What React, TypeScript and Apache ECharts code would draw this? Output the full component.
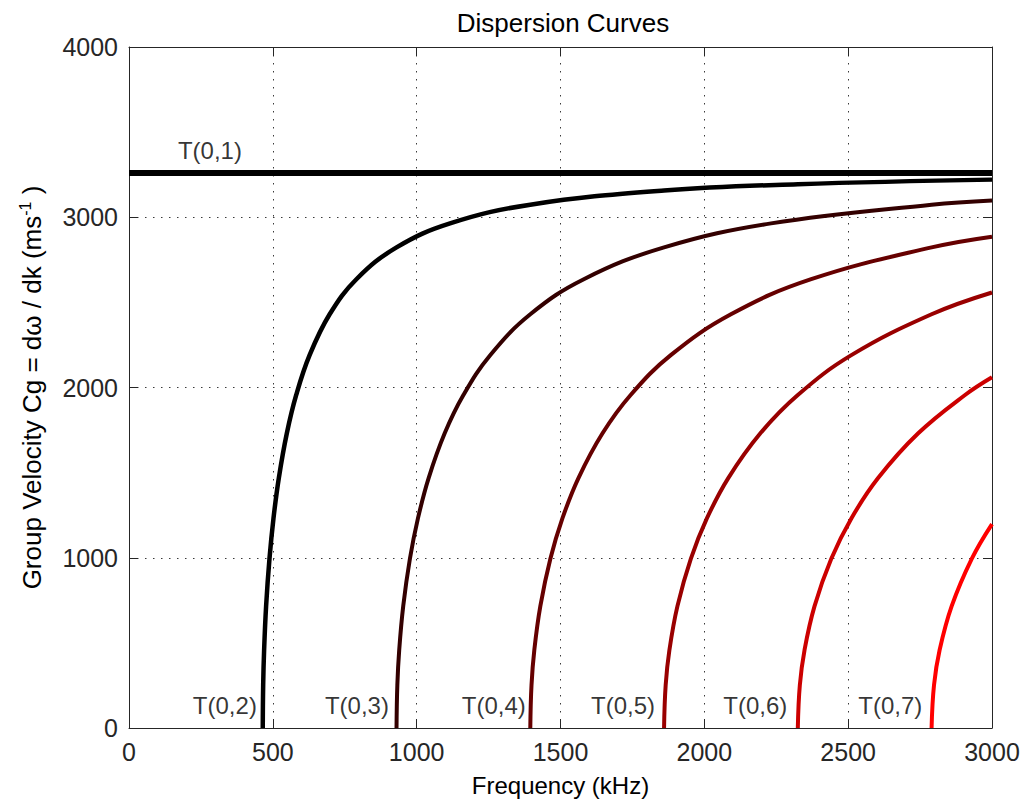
import React, { useEffect, useRef } from "react";
import * as echarts from "echarts";

// Torsional guided-wave modes: group velocity (m/s) against frequency (kHz)
const t01Freq = [0, 3000];
const t01Vel = [3260, 3260];

const t02Freq = [465, 466.4, 469.7, 476.6, 488.3, 502.2, 520.8, 548.7, 581.3, 627.8, 697.5, 790.5, 930, 1116, 1395, 1860, 2325, 3000];
const t02Vel = [0, 252, 458, 716, 994, 1231, 1468, 1731, 1956, 2190, 2430, 2636, 2823, 2964, 3074, 3157, 3194, 3221];

const t03Freq = [930, 932.8, 939.3, 953.3, 976.5, 1004.4, 1041.6, 1097.4, 1162.5, 1255.5, 1395, 1581, 1860, 2232, 2790, 3000];
const t03Vel = [0, 252, 458, 716, 994, 1231, 1468, 1731, 1956, 2190, 2430, 2636, 2823, 2964, 3074, 3099];

const t04Freq = [1395, 1399.2, 1409, 1429.9, 1464.8, 1506.6, 1562.4, 1646.1, 1743.8, 1883.3, 2092.5, 2371.5, 2790, 3000];
const t04Vel = [0, 252, 458, 716, 994, 1231, 1468, 1731, 1956, 2190, 2430, 2636, 2823, 2886];

const t05Freq = [1860, 1865.6, 1878.6, 1906.5, 1953, 2008.8, 2083.2, 2194.8, 2325, 2511, 2790, 3000];
const t05Vel = [0, 252, 458, 716, 994, 1231, 1468, 1731, 1956, 2190, 2430, 2558];

const t06Freq = [2325, 2332, 2348.3, 2383.1, 2441.3, 2511, 2604, 2743.5, 2906.3, 3000];
const t06Vel = [0, 252, 458, 716, 994, 1231, 1468, 1731, 1956, 2060];

const t07Freq = [2790, 2798.4, 2817.9, 2859.8, 2929.5, 3000];
const t07Vel = [0, 252, 458, 716, 994, 1198];

const modeNames = ["T(0,1)", "T(0,2)", "T(0,3)", "T(0,4)", "T(0,5)", "T(0,6)", "T(0,7)"];
const modeFreqs = [t01Freq, t02Freq, t03Freq, t04Freq, t05Freq, t06Freq, t07Freq];
const modeVels = [t01Vel, t02Vel, t03Vel, t04Vel, t05Vel, t06Vel, t07Vel];
const modeColors = ["#000000", "#000000", "#330000", "#660000", "#990000", "#cc0000", "#ff0000"];
const modeWidths = [6, 4.5, 4, 4, 4, 4, 4];

// Where each mode name is written (left edge of the text, vertical centre)
const labelFreq = [170, 222, 681, 1157, 1606, 2066, 2535];
const labelVel = [3395, 130, 130, 130, 130, 130, 130];

const FONT = "'Liberation Sans', Arial, Helvetica, sans-serif";
const AXIS_COLOR = "#262626";

export default function App() {
  const ref = useRef<HTMLDivElement>(null);

  useEffect(() => {
    if (!ref.current) return;
    const chart = echarts.init(ref.current, undefined, { renderer: "svg" });

    const curveSeries = modeNames.map((name, i) => ({
      name,
      type: "line",
      xAxisIndex: 0,
      yAxisIndex: 0,
      data: modeFreqs[i].map((f, j) => [f, modeVels[i][j]]),
      showSymbol: false,
      symbol: "none",
      smooth: i === 0 ? false : 0.4,
      lineStyle: { color: modeColors[i], width: modeWidths[i], cap: "butt", join: "round" },
      silent: true,
      z: 3,
    }));

    const labelSeries = {
      type: "scatter",
      xAxisIndex: 0,
      yAxisIndex: 0,
      symbolSize: 0,
      silent: true,
      z: 5,
      data: modeNames.map((name, i) => ({ name, value: [labelFreq[i], labelVel[i]] })),
      label: {
        show: true,
        position: "right",
        distance: 0,
        formatter: "{b}",
        fontSize: 24,
        fontFamily: FONT,
        color: "#000000",
      },
    };

    const plain = (v: number) => String(v);
    const tickStyle = { show: true, inside: true, length: 9, lineStyle: { color: AXIS_COLOR, width: 1 } };
    const lineStyleAxis = { show: true, onZero: false, lineStyle: { color: AXIS_COLOR, width: 1 } };
    const dotted = { show: true, lineStyle: { color: "#3a3a3a", width: 1, type: [1.5, 6.5] } };
    const labelStyle = { fontSize: 25, fontFamily: FONT, color: AXIS_COLOR, formatter: plain };

    chart.setOption({
      animation: false,
      backgroundColor: "#ffffff",
      title: {
        text: "Dispersion Curves",
        left: 558,
        top: 5,
        textAlign: "center",
        textStyle: { fontSize: 26, fontWeight: "normal", fontFamily: FONT, color: "#000000" },
      },
      grid: { left: 129, right: 33, top: 47, bottom: 74, containLabel: false },
      xAxis: [
        {
          type: "value",
          position: "bottom",
          min: 0,
          max: 3000,
          interval: 500,
          name: "Frequency (kHz)",
          nameLocation: "middle",
          nameGap: 45,
          nameTextStyle: { fontSize: 24, fontFamily: FONT, color: "#000000" },
          axisLine: lineStyleAxis,
          axisTick: tickStyle,
          axisLabel: { ...labelStyle, margin: 11 },
          splitLine: dotted,
        },
        {
          type: "value",
          position: "top",
          min: 0,
          max: 3000,
          interval: 500,
          axisLine: lineStyleAxis,
          axisTick: tickStyle,
          axisLabel: { show: false },
          splitLine: { show: false },
        },
      ],
      yAxis: [
        {
          type: "value",
          position: "left",
          min: 0,
          max: 4000,
          interval: 1000,
          name: "{n|Group Velocity Cg = dω / dk (ms}{sup|-1}{n| )}",
          nameLocation: "middle",
          nameGap: 82,
          nameRotate: 90,
          nameTextStyle: {
            fontSize: 26,
            fontFamily: FONT,
            color: "#000000",
            rich: {
              n: { fontSize: 26, fontFamily: FONT, color: "#000000", lineHeight: 30, verticalAlign: "middle" },
              sup: { fontSize: 16, fontFamily: FONT, color: "#000000", lineHeight: 16, verticalAlign: "top" },
            },
          },
          axisLine: lineStyleAxis,
          axisTick: tickStyle,
          axisLabel: { ...labelStyle, margin: 11 },
          splitLine: dotted,
        },
        {
          type: "value",
          position: "right",
          min: 0,
          max: 4000,
          interval: 1000,
          axisLine: lineStyleAxis,
          axisTick: tickStyle,
          axisLabel: { show: false },
          splitLine: { show: false },
        },
      ],
      series: [...curveSeries, labelSeries],
    });

    return () => chart.dispose();
  }, []);

  return (
    <div
      ref={ref}
      style={{ position: "fixed", left: 0, top: 0, width: 1025, height: 802, background: "#ffffff" }}
    />
  );
}
